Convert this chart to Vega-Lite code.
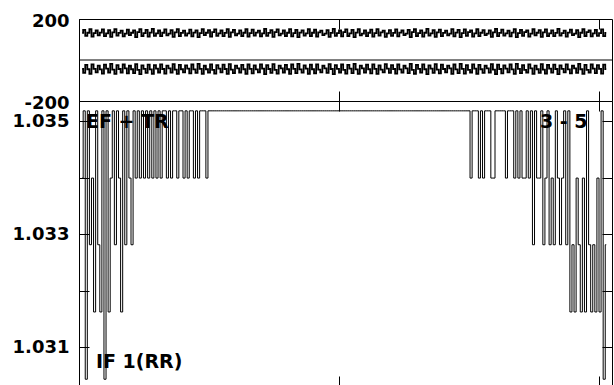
{
"$schema": "https://vega.github.io/schema/vega-lite/v6.json",
"background": "white",
"padding": {"left": 11, "top": 11, "right": 0, "bottom": 0},
"spacing": 0,
"bounds": "flush",
"config": {
  "view": {"stroke": "black", "strokeWidth": 1},
  "axis": {"labelFont": "DejaVu Sans", "labelFontWeight": "bold", "labelFontSize": 18, "labelColor": "black", "tickColor": "black", "tickWidth": 1, "domain": false, "grid": false, "labelFlush": false, "labelOverlap": false}
},
"datasets": {"d": [
{"x":12,"a":132,"b":-44,"c":1.03399},
{"x":20,"a":147,"b":-63,"c":1.03518},
{"x":28,"a":118,"b":-24,"c":1.03043},
{"x":36,"a":133,"b":-45,"c":1.03518},
{"x":44,"a":150,"b":-67,"c":1.03281},
{"x":52,"a":114,"b":-21,"c":1.03399},
{"x":60,"a":131,"b":-43,"c":1.03162},
{"x":68,"a":144,"b":-60,"c":1.03518},
{"x":76,"a":120,"b":-27,"c":1.03281},
{"x":84,"a":134,"b":-46,"c":1.03162},
{"x":92,"a":149,"b":-66,"c":1.03518},
{"x":100,"a":116,"b":-23,"c":1.03043},
{"x":108,"a":130,"b":-42,"c":1.03518},
{"x":116,"a":146,"b":-62,"c":1.03162},
{"x":124,"a":113,"b":-19,"c":1.03399},
{"x":132,"a":135,"b":-47,"c":1.03518},
{"x":140,"a":151,"b":-68,"c":1.03281},
{"x":148,"a":119,"b":-25,"c":1.03518},
{"x":156,"a":132,"b":-44,"c":1.03399},
{"x":164,"a":143,"b":-61,"c":1.03162},
{"x":172,"a":115,"b":-22,"c":1.03518},
{"x":180,"a":129,"b":-41,"c":1.03281},
{"x":188,"a":148,"b":-65,"c":1.03518},
{"x":196,"a":121,"b":-28,"c":1.03399},
{"x":204,"a":133,"b":-45,"c":1.03281},
{"x":212,"a":145,"b":-64,"c":1.03518},
{"x":220,"a":112,"b":-20,"c":1.03399},
{"x":228,"a":136,"b":-48,"c":1.03518},
{"x":236,"a":150,"b":-69,"c":1.03399},
{"x":244,"a":117,"b":-26,"c":1.03518},
{"x":252,"a":131,"b":-43,"c":1.03399},
{"x":260,"a":147,"b":-63,"c":1.03518},
{"x":268,"a":114,"b":-23,"c":1.03399},
{"x":276,"a":134,"b":-46,"c":1.03518},
{"x":284,"a":152,"b":-67,"c":1.03399},
{"x":292,"a":118,"b":-25,"c":1.03518},
{"x":300,"a":130,"b":-42,"c":1.03399},
{"x":308,"a":144,"b":-61,"c":1.03518},
{"x":316,"a":116,"b":-21,"c":1.03399},
{"x":324,"a":133,"b":-44,"c":1.03518},
{"x":332,"a":149,"b":-66,"c":1.03518},
{"x":340,"a":120,"b":-27,"c":1.03399},
{"x":348,"a":129,"b":-41,"c":1.03518},
{"x":356,"a":146,"b":-62,"c":1.03399},
{"x":364,"a":113,"b":-20,"c":1.03518},
{"x":372,"a":135,"b":-47,"c":1.03518},
{"x":380,"a":151,"b":-68,"c":1.03399},
{"x":388,"a":117,"b":-24,"c":1.03518},
{"x":396,"a":132,"b":-45,"c":1.03518},
{"x":404,"a":143,"b":-60,"c":1.03399},
{"x":412,"a":119,"b":-26,"c":1.03518},
{"x":420,"a":130,"b":-42,"c":1.03399},
{"x":428,"a":148,"b":-65,"c":1.03518},
{"x":436,"a":115,"b":-22,"c":1.03518},
{"x":444,"a":134,"b":-46,"c":1.03399},
{"x":452,"a":145,"b":-63,"c":1.03518},
{"x":460,"a":112,"b":-19,"c":1.03399},
{"x":468,"a":131,"b":-43,"c":1.03518},
{"x":476,"a":150,"b":-67,"c":1.03518},
{"x":484,"a":121,"b":-28,"c":1.03518},
{"x":492,"a":133,"b":-45,"c":1.03399},
{"x":500,"a":146,"b":-62,"c":1.03518},
{"x":508,"a":114,"b":-21,"c":1.03518},
{"x":516,"a":136,"b":-48,"c":1.03518},
{"x":524,"a":149,"b":-66,"c":1.03518},
{"x":532,"a":118,"b":-25,"c":1.03518},
{"x":540,"a":130,"b":-42,"c":1.03518},
{"x":548,"a":144,"b":-60,"c":1.03518},
{"x":556,"a":116,"b":-23,"c":1.03518},
{"x":564,"a":132,"b":-44,"c":1.03518},
{"x":572,"a":151,"b":-68,"c":1.03518},
{"x":580,"a":113,"b":-20,"c":1.03518},
{"x":588,"a":135,"b":-47,"c":1.03518},
{"x":596,"a":147,"b":-64,"c":1.03518},
{"x":604,"a":120,"b":-27,"c":1.03518},
{"x":612,"a":129,"b":-41,"c":1.03518},
{"x":620,"a":145,"b":-61,"c":1.03518},
{"x":628,"a":117,"b":-24,"c":1.03518},
{"x":636,"a":133,"b":-45,"c":1.03518},
{"x":644,"a":150,"b":-67,"c":1.03518},
{"x":652,"a":114,"b":-22,"c":1.03518},
{"x":660,"a":131,"b":-43,"c":1.03518},
{"x":668,"a":148,"b":-65,"c":1.03518},
{"x":676,"a":119,"b":-26,"c":1.03518},
{"x":684,"a":134,"b":-46,"c":1.03518},
{"x":692,"a":143,"b":-60,"c":1.03518},
{"x":700,"a":115,"b":-21,"c":1.03518},
{"x":708,"a":130,"b":-42,"c":1.03518},
{"x":716,"a":152,"b":-69,"c":1.03518},
{"x":724,"a":118,"b":-25,"c":1.03518},
{"x":732,"a":132,"b":-44,"c":1.03518},
{"x":740,"a":146,"b":-63,"c":1.03518},
{"x":748,"a":113,"b":-20,"c":1.03518},
{"x":756,"a":136,"b":-48,"c":1.03518},
{"x":764,"a":149,"b":-66,"c":1.03518},
{"x":772,"a":120,"b":-27,"c":1.03518},
{"x":780,"a":129,"b":-41,"c":1.03518},
{"x":788,"a":144,"b":-61,"c":1.03518},
{"x":796,"a":117,"b":-24,"c":1.03518},
{"x":804,"a":133,"b":-45,"c":1.03518},
{"x":812,"a":151,"b":-68,"c":1.03518},
{"x":820,"a":115,"b":-22,"c":1.03518},
{"x":828,"a":131,"b":-43,"c":1.03518},
{"x":836,"a":147,"b":-64,"c":1.03518},
{"x":844,"a":112,"b":-19,"c":1.03518},
{"x":852,"a":134,"b":-46,"c":1.03518},
{"x":860,"a":145,"b":-62,"c":1.03518},
{"x":868,"a":119,"b":-26,"c":1.03518},
{"x":876,"a":130,"b":-42,"c":1.03518},
{"x":884,"a":150,"b":-67,"c":1.03518},
{"x":892,"a":116,"b":-23,"c":1.03518},
{"x":900,"a":133,"b":-45,"c":1.03518},
{"x":908,"a":148,"b":-65,"c":1.03518},
{"x":916,"a":114,"b":-21,"c":1.03518},
{"x":924,"a":135,"b":-47,"c":1.03518},
{"x":932,"a":143,"b":-60,"c":1.03518},
{"x":940,"a":121,"b":-28,"c":1.03518},
{"x":948,"a":129,"b":-41,"c":1.03518},
{"x":956,"a":146,"b":-63,"c":1.03518},
{"x":964,"a":113,"b":-20,"c":1.03518},
{"x":972,"a":132,"b":-44,"c":1.03518},
{"x":980,"a":152,"b":-69,"c":1.03518},
{"x":988,"a":118,"b":-25,"c":1.03518},
{"x":996,"a":131,"b":-43,"c":1.03518},
{"x":1004,"a":144,"b":-61,"c":1.03518},
{"x":1012,"a":115,"b":-22,"c":1.03518},
{"x":1020,"a":136,"b":-48,"c":1.03518},
{"x":1028,"a":149,"b":-66,"c":1.03518},
{"x":1036,"a":117,"b":-24,"c":1.03518},
{"x":1044,"a":130,"b":-42,"c":1.03518},
{"x":1052,"a":147,"b":-64,"c":1.03518},
{"x":1060,"a":112,"b":-19,"c":1.03518},
{"x":1068,"a":134,"b":-46,"c":1.03518},
{"x":1076,"a":150,"b":-67,"c":1.03518},
{"x":1084,"a":120,"b":-27,"c":1.03518},
{"x":1092,"a":129,"b":-41,"c":1.03518},
{"x":1100,"a":145,"b":-62,"c":1.03518},
{"x":1108,"a":116,"b":-23,"c":1.03518},
{"x":1116,"a":133,"b":-45,"c":1.03518},
{"x":1124,"a":148,"b":-65,"c":1.03518},
{"x":1132,"a":114,"b":-21,"c":1.03518},
{"x":1140,"a":131,"b":-43,"c":1.03518},
{"x":1148,"a":151,"b":-68,"c":1.03518},
{"x":1156,"a":119,"b":-26,"c":1.03518},
{"x":1164,"a":135,"b":-47,"c":1.03518},
{"x":1172,"a":143,"b":-60,"c":1.03518},
{"x":1180,"a":113,"b":-20,"c":1.03518},
{"x":1188,"a":130,"b":-42,"c":1.03518},
{"x":1196,"a":146,"b":-63,"c":1.03518},
{"x":1204,"a":118,"b":-25,"c":1.03518},
{"x":1212,"a":132,"b":-44,"c":1.03518},
{"x":1220,"a":149,"b":-66,"c":1.03518},
{"x":1228,"a":115,"b":-22,"c":1.03518},
{"x":1236,"a":134,"b":-46,"c":1.03518},
{"x":1244,"a":144,"b":-61,"c":1.03518},
{"x":1252,"a":121,"b":-28,"c":1.03518},
{"x":1260,"a":129,"b":-41,"c":1.03518},
{"x":1268,"a":147,"b":-64,"c":1.03518},
{"x":1276,"a":112,"b":-19,"c":1.03518},
{"x":1284,"a":136,"b":-48,"c":1.03518},
{"x":1292,"a":150,"b":-67,"c":1.03518},
{"x":1300,"a":117,"b":-24,"c":1.03518},
{"x":1308,"a":131,"b":-43,"c":1.03518},
{"x":1316,"a":145,"b":-62,"c":1.03518},
{"x":1324,"a":114,"b":-21,"c":1.03518},
{"x":1332,"a":133,"b":-45,"c":1.03518},
{"x":1340,"a":152,"b":-69,"c":1.03518},
{"x":1348,"a":119,"b":-26,"c":1.03518},
{"x":1356,"a":130,"b":-42,"c":1.03518},
{"x":1364,"a":146,"b":-63,"c":1.03518},
{"x":1372,"a":113,"b":-20,"c":1.03518},
{"x":1380,"a":135,"b":-47,"c":1.03518},
{"x":1388,"a":148,"b":-65,"c":1.03518},
{"x":1396,"a":116,"b":-23,"c":1.03518},
{"x":1404,"a":132,"b":-44,"c":1.03518},
{"x":1412,"a":143,"b":-60,"c":1.03518},
{"x":1420,"a":120,"b":-27,"c":1.03518},
{"x":1428,"a":129,"b":-41,"c":1.03518},
{"x":1436,"a":151,"b":-68,"c":1.03518},
{"x":1444,"a":115,"b":-22,"c":1.03518},
{"x":1452,"a":134,"b":-46,"c":1.03518},
{"x":1460,"a":147,"b":-64,"c":1.03518},
{"x":1468,"a":112,"b":-19,"c":1.03518},
{"x":1476,"a":131,"b":-43,"c":1.03518},
{"x":1484,"a":149,"b":-66,"c":1.03518},
{"x":1492,"a":118,"b":-25,"c":1.03518},
{"x":1500,"a":136,"b":-48,"c":1.03518},
{"x":1508,"a":144,"b":-61,"c":1.03399},
{"x":1516,"a":114,"b":-21,"c":1.03518},
{"x":1524,"a":130,"b":-42,"c":1.03518},
{"x":1532,"a":150,"b":-67,"c":1.03518},
{"x":1540,"a":117,"b":-24,"c":1.03399},
{"x":1548,"a":133,"b":-45,"c":1.03518},
{"x":1556,"a":146,"b":-63,"c":1.03399},
{"x":1564,"a":121,"b":-28,"c":1.03518},
{"x":1572,"a":129,"b":-41,"c":1.03518},
{"x":1580,"a":145,"b":-62,"c":1.03518},
{"x":1588,"a":113,"b":-20,"c":1.03399},
{"x":1596,"a":135,"b":-47,"c":1.03399},
{"x":1604,"a":152,"b":-69,"c":1.03518},
{"x":1612,"a":116,"b":-23,"c":1.03518},
{"x":1620,"a":132,"b":-44,"c":1.03518},
{"x":1628,"a":148,"b":-65,"c":1.03518},
{"x":1636,"a":119,"b":-26,"c":1.03518},
{"x":1644,"a":130,"b":-42,"c":1.03399},
{"x":1652,"a":143,"b":-60,"c":1.03518},
{"x":1660,"a":115,"b":-22,"c":1.03518},
{"x":1668,"a":134,"b":-46,"c":1.03518},
{"x":1676,"a":151,"b":-68,"c":1.03399},
{"x":1684,"a":112,"b":-19,"c":1.03518},
{"x":1692,"a":131,"b":-43,"c":1.03399},
{"x":1700,"a":147,"b":-64,"c":1.03518},
{"x":1708,"a":118,"b":-25,"c":1.03399},
{"x":1716,"a":136,"b":-48,"c":1.03399},
{"x":1724,"a":144,"b":-61,"c":1.03518},
{"x":1732,"a":114,"b":-21,"c":1.03399},
{"x":1740,"a":129,"b":-41,"c":1.03518},
{"x":1748,"a":150,"b":-67,"c":1.03281},
{"x":1756,"a":120,"b":-27,"c":1.03518},
{"x":1764,"a":133,"b":-45,"c":1.03399},
{"x":1772,"a":146,"b":-63,"c":1.03399},
{"x":1780,"a":113,"b":-20,"c":1.03518},
{"x":1788,"a":135,"b":-47,"c":1.03281},
{"x":1796,"a":149,"b":-66,"c":1.03399},
{"x":1804,"a":117,"b":-24,"c":1.03518},
{"x":1812,"a":130,"b":-42,"c":1.03281},
{"x":1820,"a":145,"b":-62,"c":1.03399},
{"x":1828,"a":116,"b":-23,"c":1.03281},
{"x":1836,"a":132,"b":-44,"c":1.03518},
{"x":1844,"a":152,"b":-69,"c":1.03399},
{"x":1852,"a":119,"b":-26,"c":1.03281},
{"x":1860,"a":131,"b":-43,"c":1.03399},
{"x":1868,"a":143,"b":-60,"c":1.03518},
{"x":1876,"a":114,"b":-21,"c":1.03281},
{"x":1884,"a":134,"b":-46,"c":1.03518},
{"x":1892,"a":148,"b":-65,"c":1.03162},
{"x":1900,"a":121,"b":-28,"c":1.03281},
{"x":1908,"a":129,"b":-41,"c":1.03162},
{"x":1916,"a":146,"b":-63,"c":1.03399},
{"x":1924,"a":112,"b":-19,"c":1.03281},
{"x":1932,"a":133,"b":-45,"c":1.03162},
{"x":1940,"a":150,"b":-67,"c":1.03399},
{"x":1948,"a":117,"b":-24,"c":1.03162},
{"x":1956,"a":136,"b":-48,"c":1.03518},
{"x":1964,"a":144,"b":-61,"c":1.03281},
{"x":1972,"a":115,"b":-22,"c":1.03162},
{"x":1980,"a":130,"b":-42,"c":1.03281},
{"x":1988,"a":147,"b":-64,"c":1.03162},
{"x":1996,"a":118,"b":-25,"c":1.03399},
{"x":2004,"a":131,"b":-43,"c":1.03162},
{"x":2012,"a":149,"b":-66,"c":1.03518},
{"x":2020,"a":116,"b":-23,"c":1.03043},
{"x":2028,"a":132,"b":-44,"c":1.03281}
]},
"vconcat": [
  {
    "width": 533,
    "height": 82,
    "layer": [
      {
        "data": {"values": [{"z": 0}]},
        "mark": {"type": "rule", "color": "black", "strokeWidth": 1},
        "encoding": {
          "y": {"field": "z", "type": "quantitative", "scale": {"domain": [-200, 200], "nice": false, "zero": false}, "axis": null}
        }
      },
      {
        "data": {"name": "d"},
        "mark": {"type": "line", "interpolate": "step", "color": "black", "strokeWidth": 1.8},
        "encoding": {
          "x": {"field": "x", "type": "quantitative", "scale": {"domain": [0, 2050], "nice": false, "zero": false},
                "axis": {"orient": "bottom", "values": [0, 1000, 2000], "labels": false, "tickSize": -10, "title": null}},
          "y": {"field": "a", "type": "quantitative", "scale": {"domain": [-200, 200], "nice": false, "zero": false},
                "axis": {"orient": "left", "values": [-200, 200], "labelExpr": "datum.value < 0 ? '-200' : '200'", "tickSize": -10, "labelPadding": 20, "labelOffset": 2, "title": null}}
        }
      },
      {
        "data": {"name": "d"},
        "mark": {"type": "line", "interpolate": "step", "color": "black", "strokeWidth": 1.8},
        "encoding": {
          "x": {"field": "x", "type": "quantitative", "scale": {"domain": [0, 2050], "nice": false, "zero": false},
                "axis": {"orient": "top", "values": [0, 1000, 2000], "labels": false, "tickSize": -10, "title": null}},
          "y": {"field": "b", "type": "quantitative", "scale": {"domain": [-200, 200], "nice": false, "zero": false}, "axis": null}
        }
      }
    ],
    "resolve": {"axis": {"x": "independent", "y": "independent"}}
  },
  {
    "width": 533,
    "height": 285,
    "layer": [
      {
        "data": {"values": [
          {"x": 27, "c": 1.034876, "t": "EF + TR"},
          {"x": 1773, "c": 1.034876, "t": "3 - 5"},
          {"x": 65, "c": 1.030629, "t": "IF 1(RR)"}
        ]},
        "mark": {"type": "text", "align": "left", "baseline": "alphabetic", "font": "DejaVu Sans", "fontWeight": "bold", "fontSize": 19, "color": "black"},
        "encoding": {
          "x": {"field": "x", "type": "quantitative", "scale": {"domain": [0, 2050], "nice": false, "zero": false},
                "axis": {"orient": "top", "values": [0, 1000, 2000], "labels": false, "tickSize": -10, "title": null}},
          "y": {"field": "c", "type": "quantitative", "scale": {"domain": [1.03031, 1.035354], "nice": false, "zero": false},
                "axis": {"orient": "right", "values": [1.031, 1.032, 1.033, 1.034, 1.035], "labels": false, "tickSize": -10, "title": null}},
          "text": {"field": "t", "type": "nominal"}
        }
      },
      {
        "data": {"name": "d"},
        "mark": {"type": "line", "interpolate": "step", "color": "black", "strokeWidth": 1},
        "encoding": {
          "x": {"field": "x", "type": "quantitative", "scale": {"domain": [0, 2050], "nice": false, "zero": false},
                "axis": {"orient": "bottom", "values": [0, 1000, 2000], "labels": false, "tickSize": -10, "title": null}},
          "y": {"field": "c", "type": "quantitative", "scale": {"domain": [1.03031, 1.035354], "nice": false, "zero": false},
                "axis": {"orient": "left", "values": [1.031, 1.032, 1.033, 1.034, 1.035], "format": ".3f", "labelExpr": "round(datum.value * 1000) % 2 == 0 ? '' : datum.label", "tickSize": -10, "labelPadding": 20, "title": null}}
        }
      }
    ],
    "resolve": {"axis": {"x": "independent", "y": "independent"}}
  }
]
}
